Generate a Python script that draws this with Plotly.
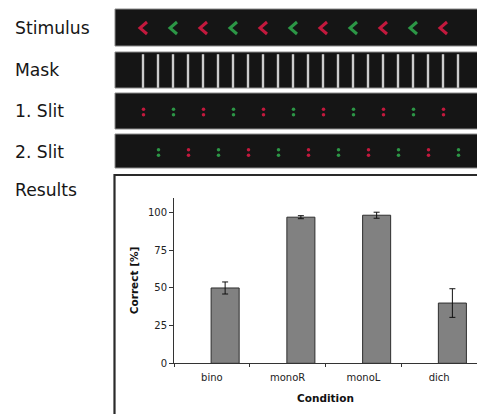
import plotly.graph_objects as go

OFF = 0
PAGE_W, PAGE_H = 477, 414
W, H = PAGE_W, PAGE_H

# ---------------- data ----------------
conditions = ["bino", "monoR", "monoL", "dich"]
correct = [50, 97, 98.3, 40]
correct_err = [4, 1, 2, 9.5]
y_ticks = [0, 25, 50, 75, 100]
row_labels = ["Stimulus", "Mask", "1. Slit", "2. Slit", "Results"]
stimulus_colors = ["R", "G", "R", "G", "R", "G", "R", "G", "R", "G", "R"]
slit1_colors = ["R", "G", "R", "G", "R", "G", "R", "G", "R", "G", "R"]
slit2_colors = ["G", "R", "G", "R", "G", "R", "G", "R", "G", "R", "G"]
n_mask_bars = 22

# ---------------- styles / layout constants ----------------
FONT = "DejaVu Sans"
COL = {"R": "#c2193d", "G": "#2c9646"}
PANEL_BG = "#151515"
PANEL_LINE = "#8a8a8a"
panels = [(9, 46), (52, 88), (93, 129), (134, 168)]
label_y = [28, 70, 111, 152, 190]
PX0 = 115
PITCH = 30


def px(x):
    return (x - OFF) / W


def py(y):
    return 1 - (y - OFF) / H


fig = go.Figure()

for (y0, y1) in panels:
    fig.add_shape(type="rect", xref="paper", yref="paper",
                  x0=px(PX0), x1=px(PAGE_W + 5), y0=py(y1), y1=py(y0),
                  fillcolor=PANEL_BG, line=dict(color=PANEL_LINE, width=1),
                  layer="below")

# results box
fig.add_shape(type="rect", xref="paper", yref="paper",
              x0=px(114.5), x1=px(PAGE_W + 5), y0=py(PAGE_H + 5), y1=py(175),
              fillcolor="white", line=dict(color="#2a2a2a", width=2.2),
              layer="below")

# chevrons
for key in ["R", "G"]:
    xs, ys = [], []
    for k, c in enumerate(stimulus_colors):
        if c != key:
            continue
        cx = 143.5 + PITCH * k
        cy = 28
        xs += [cx + 3.5, cx - 3.5, cx + 3.5, None]
        ys += [cy - 6.0, cy, cy + 6.0, None]
    fig.add_trace(go.Scatter(x=xs, y=ys, mode="lines", xaxis="x2", yaxis="y2",
                             line=dict(color=COL[key], width=3),
                             hoverinfo="skip", showlegend=False))

# mask bars
fig.add_trace(go.Scatter(x=[143 + 15 * k for k in range(n_mask_bars)],
                         y=[71] * n_mask_bars, mode="markers",
                         xaxis="x2", yaxis="y2",
                         marker=dict(symbol="line-ns", size=24,
                                     line=dict(color="#cdcdcd", width=2.4)),
                         hoverinfo="skip", showlegend=False))


def slit_trace(colors, x0, yc):
    for key in ["R", "G"]:
        xs, ys = [], []
        for k, c in enumerate(colors):
            if c != key:
                continue
            cx = x0 + PITCH * k
            xs += [cx, cx]
            ys += [yc - 2.7, yc + 2.7]
        fig.add_trace(go.Scatter(x=xs, y=ys, mode="markers", xaxis="x2", yaxis="y2",
                                 marker=dict(color=COL[key], size=3.5, line=dict(width=0)),
                                 hoverinfo="skip", showlegend=False))


slit_trace(slit1_colors, 143.5, 112)
slit_trace(slit2_colors, 158.5, 152.5)

# row labels
for lab, yy in zip(row_labels, label_y):
    fig.add_annotation(text=lab, xref="paper", yref="paper", x=px(12.5), y=py(yy),
                       xanchor="left", yanchor="middle", showarrow=False,
                       font=dict(family=FONT, size=17.2, color="#161616"))

# bar chart
fig.add_trace(go.Bar(x=conditions, y=correct, width=0.37, offset=-0.01,
                     marker=dict(color="#818181", line=dict(color="#2e2e2e", width=1)),
                     error_y=dict(type="data", array=correct_err, color="#111",
                                  thickness=1, width=3),
                     showlegend=False))

fig.update_layout(
    width=W, height=H,
    margin=dict(l=0, r=0, t=0, b=0),
    paper_bgcolor="white", plot_bgcolor="rgba(0,0,0,0)",
    font=dict(family=FONT, color="#222"),
    xaxis=dict(domain=[px(174), 1], range=[-0.5, 3.5], showline=True,
               linecolor="#333", linewidth=1, ticks="outside", tickson="boundaries",
               ticklen=3, tickcolor="#333", showgrid=False, zeroline=False,
               ticklabelstandoff=5,
               tickfont=dict(family=FONT, size=10, color="#222"),
               title=dict(text="Condition", standoff=12,
                          font=dict(family=FONT, size=10.5, weight="bold", color="#111"))),
    yaxis=dict(domain=[py(363.3), py(197.6)], range=[0, 110], showline=True,
               linecolor="#333", linewidth=1, ticks="outside", ticklen=4,
               tickcolor="#333", tickvals=y_ticks, showgrid=False, zeroline=False,
               tickfont=dict(family=FONT, size=10, color="#222"),
               title=dict(text="Correct [%]", standoff=7,
                          font=dict(family=FONT, size=10.5, weight="bold", color="#111"))),
    xaxis2=dict(domain=[0, 1], range=[OFF, OFF + W], visible=False, fixedrange=True),
    yaxis2=dict(domain=[0, 1], range=[OFF + H, OFF], visible=False, fixedrange=True),
)
fig.update_xaxes(automargin=False)
fig.update_yaxes(automargin=False)

fig.write_html("out.html",
               config={"displayModeBar": False},
               post_script="document.body.style.margin='0';"
                           "document.documentElement.style.overflow='hidden';")
